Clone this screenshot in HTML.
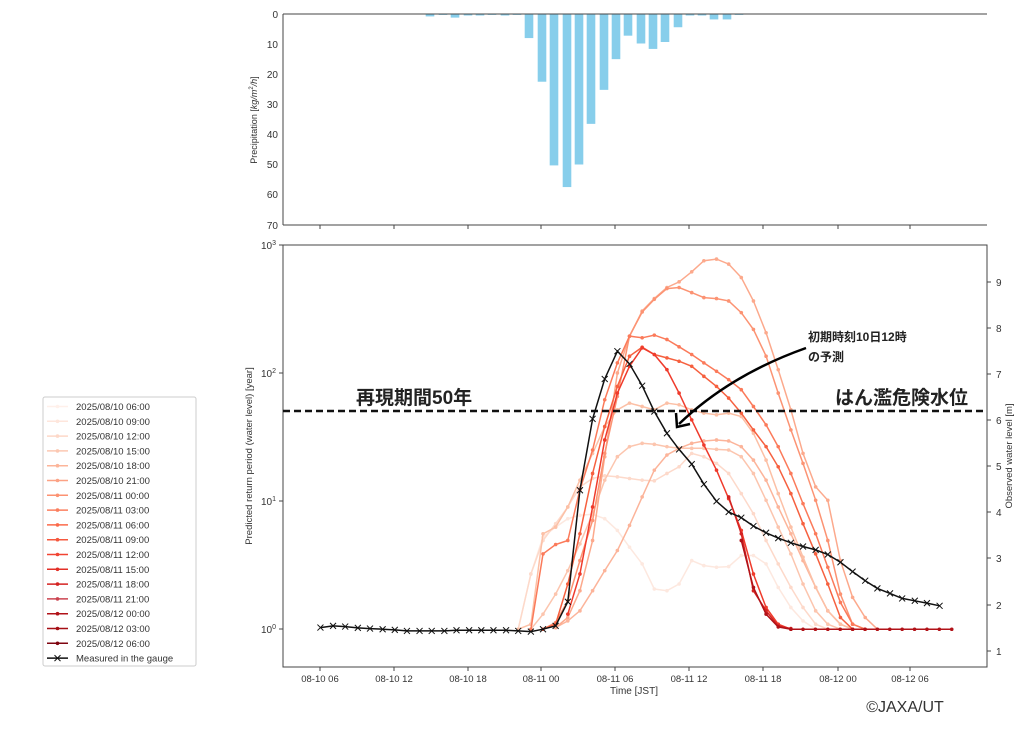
<!DOCTYPE html>
<html><head><meta charset="utf-8"><style>
body{margin:0;background:#fff;}
svg{display:block;font-family:"Liberation Sans","DejaVu Sans",sans-serif;}
</style></head><body>
<svg id="s" width="1024" height="731" xmlns="http://www.w3.org/2000/svg">
<rect width="1024" height="731" fill="#fff"/>
<g id="bars"></g>
<line x1="283" y1="14" x2="987" y2="14" stroke="#444" stroke-width="1"/>
<line x1="283" y1="14" x2="283" y2="225" stroke="#444" stroke-width="1"/>
<line x1="283" y1="225" x2="987" y2="225" stroke="#444" stroke-width="1"/>
<g font-size="10" fill="#333" text-anchor="end">
<text x="278" y="18">0</text><text x="278" y="48">10</text><text x="278" y="78">20</text><text x="278" y="108">30</text><text x="278" y="138">40</text><text x="278" y="168">50</text><text x="278" y="198">60</text><text x="278" y="229">70</text>
</g>
<text transform="translate(257,120) rotate(-90)" font-size="9" fill="#333" text-anchor="middle">Precipitation [<tspan font-style="italic">kg/m</tspan><tspan font-size="6" dy="-4">2</tspan><tspan dy="4" font-style="italic">/h</tspan>]</text>
<g id="ticks"></g>
<rect x="283" y="245" width="704" height="422" fill="none" stroke="#444" stroke-width="1"/>
<g font-size="10" fill="#333" text-anchor="end">
<text x="276" y="249">10<tspan font-size="7" dy="-4">3</tspan></text>
<text x="276" y="377">10<tspan font-size="7" dy="-4">2</tspan></text>
<text x="276" y="505">10<tspan font-size="7" dy="-4">1</tspan></text>
<text x="276" y="633">10<tspan font-size="7" dy="-4">0</tspan></text>
</g>
<g font-size="10" fill="#333">
<text x="996" y="286">9</text><text x="996" y="332">8</text><text x="996" y="378">7</text><text x="996" y="424">6</text><text x="996" y="470">5</text><text x="996" y="516">4</text><text x="996" y="562">3</text><text x="996" y="609">2</text><text x="996" y="655">1</text>
</g>
<text transform="translate(252,456) rotate(-90)" font-size="9.5" fill="#333" text-anchor="middle">Predicted return period (water level) [year]</text>
<text transform="translate(1012,456) rotate(-90)" font-size="9.5" fill="#333" text-anchor="middle">Observed water level [m]</text>
<text x="634" y="694" font-size="10" fill="#333" text-anchor="middle">Time [JST]</text>
<g id="series"></g>
<line x1="283" y1="411" x2="987" y2="411" stroke="#111" stroke-width="2.5" stroke-dasharray="7,4"/>
<text x="356" y="404" font-size="19" font-weight="bold" fill="#222" font-family="'Liberation Sans','Noto Sans CJK JP',sans-serif">再現期間50年</text>
<text x="968" y="404" font-size="19" font-weight="bold" fill="#222" text-anchor="end" font-family="'Liberation Sans','Noto Sans CJK JP',sans-serif">はん濫危険水位</text>
<text x="808" y="341" font-size="12" font-weight="bold" fill="#222" font-family="'Liberation Sans','Noto Sans CJK JP',sans-serif">初期時刻10日12時</text>
<text x="808" y="361" font-size="12" font-weight="bold" fill="#222" font-family="'Liberation Sans','Noto Sans CJK JP',sans-serif">の予測</text>
<path d="M806,348 Q730,375 679,424" fill="none" stroke="#000" stroke-width="2.5"/>
<path d="M676,413 L677,427 L690,424" fill="none" stroke="#000" stroke-width="2.5"/>
<text x="905" y="712" font-size="16" fill="#333" text-anchor="middle" font-family="'Liberation Sans','Noto Sans CJK JP',sans-serif">©JAXA/UT</text>
<rect x="43" y="397" width="153" height="269" fill="#fff" stroke="#ccc" stroke-width="1" rx="2"/>
<g id="legend"></g>
</svg>
<script>
var NS="http://www.w3.org/2000/svg";
function el(p,t,a){var e=document.createElementNS(NS,t);for(var k in a)e.setAttribute(k,a[k]);p.appendChild(e);return e;}
var B=document.getElementById('bars'),T=document.getElementById('ticks'),S=document.getElementById('series'),L=document.getElementById('legend');
var bars=[[430,0.8],[443,0.3],[455,1.2],[468,0.5],[480,0.5],[492,0.3],[505,0.5],[517,0.3],[529,8],[542,22.5],[554,50.3],[567,57.5],[579,50],[591,36.5],[604,25.2],[616,15],[628,7.2],[641,9.8],[653,11.6],[665,9.3],[678,4.4],[690,0.5],[702,0.5],[714,1.8],[727,1.8],[739,0.3]];
bars.forEach(function(b){el(B,'rect',{x:b[0]-4.3,y:14,width:8.6,height:b[1]*3.01,fill:'#87ceeb'});});
var tx=[320,394,468,541,615,689,763,838,910],tl=['08-10 06','08-10 12','08-10 18','08-11 00','08-11 06','08-11 12','08-11 18','08-12 00','08-12 06'];
tx.forEach(function(x,i){el(T,'line',{x1:x,y1:225,x2:x,y2:229,stroke:'#444'});el(T,'line',{x1:x,y1:667,x2:x,y2:671,stroke:'#444'});var t=el(T,'text',{x:x,y:682,'font-size':9.5,fill:'#333','text-anchor':'middle'});t.textContent=tl[i];});
[245,373,501,629].forEach(function(y){el(T,'line',{x1:279,y1:y,x2:283,y2:y,stroke:'#444'});});
[282,328,374,420,466,512,558,605,651].forEach(function(y){el(T,'line',{x1:987,y1:y,x2:991,y2:y,stroke:'#444'});});
function cx(z){return 283+(z-88)*0.486;} function cy(z){return 245+(z-18)*0.335;}
function hp(a){var o=[];for(var i=0;i<a.length;i+=2)o.push([cx(a[i]),cy(a[i+1])]);return o;}
var flat=[];for(var z=1158;z<=1466;z+=25.5)flat.push(z,1165);
var ser=[
['#fde8df',[572,1165,598,1000,623,890,649,860,674,835,699,825,725,822,750,835,776,870,801,920,827,970,852,1045,878,1050,903,1030,929,960,954,975,980,980,1005,978,1031,945,1056,945,1082,970,1107,1040,1133,1100,1158,1140,1184,1165]],
['#fdd9ca',[572,1165,598,1000,623,900,649,850,674,800,699,740,725,715,750,707,776,710,801,715,827,720,852,722,878,700,903,680,929,640,954,650,980,670,1005,700,1031,760,1056,820,1082,900,1107,970,1133,1040,1158,1100,1184,1150,1209,1165]],
['#fcc5ae',[598,1165,623,1120,649,1060,674,990,699,910,725,820,750,720,776,650,801,620,827,610,852,613,878,620,903,625,929,625,954,625,980,628,1005,630,1031,650,1056,700,1082,780,1107,860,1133,940,1158,1030,1184,1110,1209,1150,1235,1165]],
['#fcb49a',[649,1160,674,1140,699,1110,725,1050,750,990,776,930,801,855,827,770,852,690,878,645,903,625,929,610,954,603,980,600,1005,603,1031,620,1056,660,1082,720,1107,800,1133,880,1158,960,1184,1040,1209,1110,1235,1150,1260,1165]],
['#fcc0a6',[572,1165,598,1150,623,880,649,860,674,800,699,720,725,640,750,560,776,510,801,490,827,500,852,510,878,490,903,495,929,510,954,520,980,525,1005,520,1031,530,1056,580,1082,660,1107,760,1133,860,1158,950,1184,1040,1209,1110,1235,1150,1260,1165]],
['#fca98c',[649,1160,674,1130,699,1050,725,900,750,650,776,400,801,290,827,215,852,178,878,145,903,128,929,98,954,65,980,60,1005,75,1031,115,1056,185,1082,280,1107,390,1133,510,1158,640,1184,740,1209,780,1235,960,1260,1070,1286,1130,1311,1165]],
['#fc9373',[623,1165,649,1145,674,1080,699,960,725,840,750,640,776,470,801,290,827,218,852,180,878,148,903,145,929,160,954,175,980,178,1005,185,1031,220,1056,270,1082,350,1107,460,1133,570,1158,670,1184,780,1209,900,1235,1060,1260,1150,1286,1165]],
['#fb7a5a',[598,1165,623,940,649,912,674,900,699,748,725,630,750,480,776,370,801,290,827,295,852,287,878,300,903,322,929,345,954,370,980,395,1005,420,1031,450,1056,500,1082,555,1107,620,1133,700,1158,790,1184,880,1209,980,1235,1085,1260,1150,1286,1165]],
['#f6603f',[623,1165,649,1150,674,1030,699,880,725,700,750,560,776,440,801,350,827,323,852,345,878,355,903,365,929,380,954,410,980,440,1005,475,1031,520,1056,570,1082,620,1107,680,1133,760,1158,850,1184,940,1209,1030,1235,1130,1260,1165]],
['#ef3b2c',[674,1120,699,1000,725,800,750,600,776,460,801,380,827,325,852,345,878,390,903,460,929,540,954,615,980,690,1005,775,1031,870,1056,1000,1082,1100,1107,1150,1133,1165]],
['#d42322',[1005,770,1031,880,1056,1050,1082,1110,1107,1155,1133,1163]],
['#b11218',[1031,900,1056,1040,1082,1120,1107,1158,1133,1165].concat(flat)]
];
ser.forEach(function(s){var p=hp(s[1]);el(S,'polyline',{points:p.map(function(q){return q[0].toFixed(1)+','+q[1].toFixed(1)}).join(' '),fill:'none',stroke:s[0],'stroke-width':1.5});p.forEach(function(q){el(S,'circle',{cx:q[0],cy:q[1],r:1.8,fill:s[0]});});});
var m=[165,1160,191,1155,216,1157,242,1161,267,1163,293,1165,318,1167,343,1170,369,1170,394,1170,420,1170,445,1168,471,1168,496,1168,521,1168,547,1168,572,1170,598,1172,623,1165,649,1155,674,1083,699,750,725,537,750,418,776,335,801,373,827,438,852,515,878,580,903,628,929,672,954,732,980,783,1005,815,1031,832,1056,857,1082,877,1107,893,1133,907,1158,918,1184,928,1209,942,1235,965,1260,993,1286,1020,1311,1043,1337,1058,1362,1073,1388,1080,1413,1087,1439,1095];
var mp=hp(m);
el(S,'polyline',{points:mp.map(function(q){return q[0].toFixed(1)+','+q[1].toFixed(1)}).join(' '),fill:'none',stroke:'#111','stroke-width':1.5});
mp.forEach(function(q){el(S,'path',{d:'M'+(q[0]-3)+','+(q[1]-3)+'l6,6m0,-6l-6,6',stroke:'#111','stroke-width':1});});
var lc=['#fff0ea','#fee6dc','#fdd8c8','#fcc8b2','#fcb59a','#fca285','#fc9272','#fb7f5f','#fb6a4a','#f6583e','#f14432','#e32f27','#d42322','#cb4450','#b11218','#a50f15','#7f0510'];
var ll=['2025/08/10 06:00','2025/08/10 09:00','2025/08/10 12:00','2025/08/10 15:00','2025/08/10 18:00','2025/08/10 21:00','2025/08/11 00:00','2025/08/11 03:00','2025/08/11 06:00','2025/08/11 09:00','2025/08/11 12:00','2025/08/11 15:00','2025/08/11 18:00','2025/08/11 21:00','2025/08/12 00:00','2025/08/12 03:00','2025/08/12 06:00'];
for(var i=0;i<18;i++){var y=406.5+i*14.8;var c=i<17?lc[i]:'#111';el(L,'line',{x1:47,y1:y,x2:68,y2:y,stroke:c,'stroke-width':1.5});
if(i<17)el(L,'circle',{cx:57.5,cy:y,r:1.8,fill:c});else el(L,'path',{d:'M54.5,'+(y-3)+'l6,6m0,-6l-6,6',stroke:'#111'});
var t=el(L,'text',{x:76,y:y+3.5,'font-size':9.5,fill:'#333'});t.textContent=i<17?ll[i]:'Measured in the gauge';}
</script>
</body></html>
